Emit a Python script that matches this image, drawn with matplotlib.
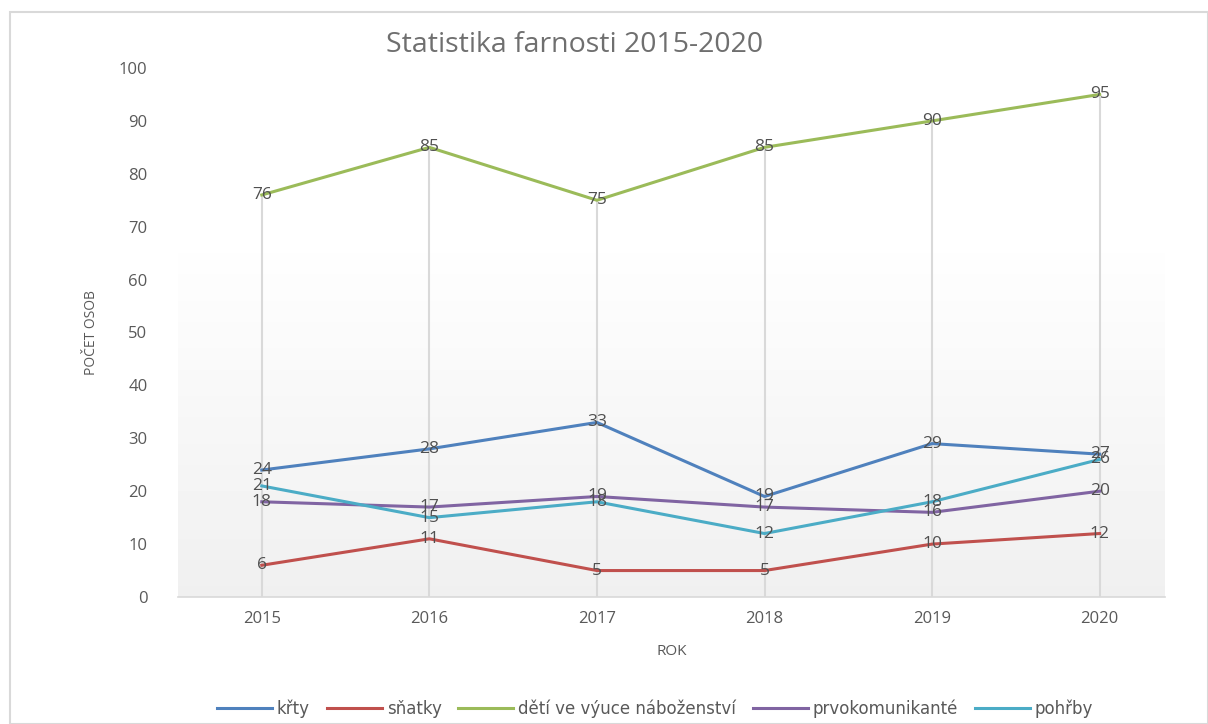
import numpy as np
import matplotlib
matplotlib.use('Agg')
import matplotlib.pyplot as plt
from matplotlib.patches import Rectangle

# Data
roky = ['2015', '2016', '2017', '2018', '2019', '2020']
krty = [24, 28, 33, 19, 29, 27]
snatky = [6, 11, 5, 5, 10, 12]
deti = [76, 85, 75, 85, 90, 95]
prvokomunikante = [18, 17, 19, 17, 16, 20]
pohrby = [21, 15, 18, 12, 18, 26]

series = [
    ('křty', krty, '#4f81bd'),
    ('sňatky', snatky, '#c0504d'),
    ('dětí ve výuce náboženství', deti, '#9bbb59'),
    ('prvokomunikanté', prvokomunikante, '#8064a2'),
    ('pohřby', pohrby, '#4bacc6'),
]

plt.rcParams['font.family'] = ['Open Sans', 'DejaVu Sans']

fig = plt.figure(figsize=(12.08, 7.24), dpi=100)
fig.patches.append(Rectangle((10/1208, 0), 1 - 10/1208, 1 - 12/724, transform=fig.transFigure,
                             fill=False, edgecolor='#d9d9d9', linewidth=1.5))

ax = fig.add_axes([178/1208, 1 - 597/724, (1165 - 178)/1208, (597 - 68)/724])
x = np.arange(len(roky))

# plot area gradient (white at top, light grey at bottom)
grad = np.ones((100, 1))
grad[:70, 0] = np.linspace(0.94, 1.0, 70)
ax.imshow(grad, cmap='gray', vmin=0, vmax=1, origin='lower', aspect='auto',
          extent=(-0.5, 5.39, 0, 100), zorder=0)

# drop lines from the highest value of each year
maxima = np.max([s[1] for s in series], axis=0)
ax.vlines(x, 0, maxima, color='#d9d9d9', linewidth=1.5, zorder=1)

for name, vals, col in series:
    ax.plot(x, vals, color=col, linewidth=2.2, label=name, zorder=3)
    for xi, v in zip(x, vals):
        ax.text(xi, v, str(v), ha='center', va='center', fontsize=12.5,
                color='#505050', zorder=4)

ax.set_xlim(-0.5, 5.39)
ax.set_ylim(0, 100)
ax.set_yticks(range(0, 101, 10))
ax.set_xticks(x)
ax.set_xticklabels(roky)
ax.tick_params(length=0, labelsize=12, colors='#595959', pad=10)
ax.tick_params(axis='y', pad=22)
for sp in ['top', 'right', 'left']:
    ax.spines[sp].set_visible(False)
ax.spines['bottom'].set_color('#d9d9d9')
ax.spines['bottom'].set_linewidth(1.2)

ax.set_xlabel('ROK', fontsize=11, color='#595959', labelpad=12)
ax.set_ylabel('POČET OSOB', fontsize=10, color='#595959', labelpad=14)

fig.text(575/1208, 1 - 45/724, 'Statistika farnosti 2015-2020', ha='center', va='center',
         fontsize=20.5, color='#6f6f6f')

fig.legend(loc='center', bbox_to_anchor=(655/1208, 1 - 709/724), ncol=5, frameon=False,
           prop={'family': 'DejaVu Sans', 'size': 12}, labelcolor='#595959',
           handlelength=3.3, columnspacing=1.0, handletextpad=0.3)

fig.savefig('out.png', dpi=100)
